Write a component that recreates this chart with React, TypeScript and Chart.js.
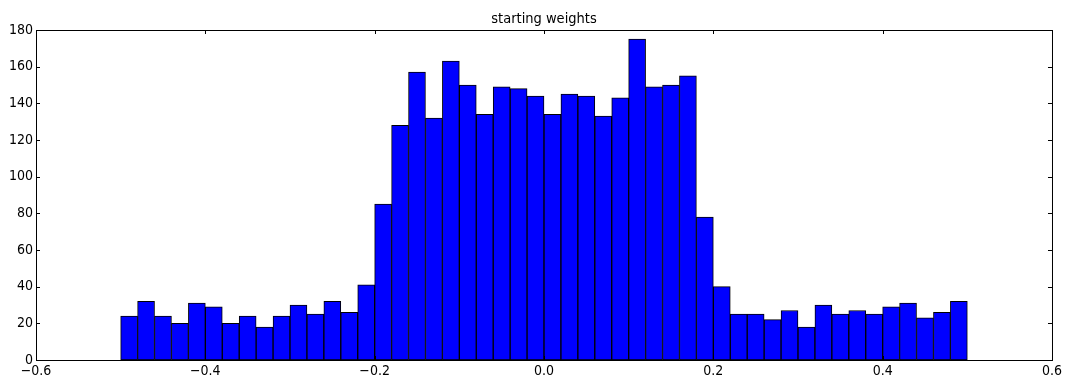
import React, { useEffect, useRef } from "react";
import { Chart, registerables } from "chart.js";

Chart.register(...registerables);

const TITLE = "starting weights";
const BIN_MIN = -0.5;
const BIN_MAX = 0.5;
const COUNTS = [
  24, 32, 24, 20, 31, 29, 20, 24, 18, 24,
  30, 25, 32, 26, 41, 85, 128, 157, 132, 163,
  150, 134, 149, 148, 144, 134, 145, 144, 133, 143,
  175, 149, 150, 155, 78, 40, 25, 25, 22, 27,
  18, 30, 25, 27, 25, 29, 31, 23, 26, 32,
];
const X_MIN = -0.6;
const X_MAX = 0.6;
const X_STEP = 0.2;
const Y_MIN = 0;
const Y_MAX = 180;
const Y_STEP = 20;

const TITLE_FONT = "'DejaVu Sans Condensed', 'DejaVu Sans', sans-serif";
const TICK_FONT = "'Liberation Sans Narrow', 'DejaVu Sans Condensed', sans-serif";

const framePlugin = {
  id: "mplFrame",
  afterDatasetsDraw(chart: any) {
    const { ctx, chartArea } = chart;
    const { left, right, top, bottom } = chartArea;
    const xs = chart.scales.x;
    const ys = chart.scales.y;
    const tl = 4;
    ctx.save();
    ctx.strokeStyle = "#000";
    ctx.lineWidth = 1;
    ctx.beginPath();
    xs.ticks.forEach((t: any) => {
      const px = Math.round(xs.getPixelForValue(t.value)) + 0.5;
      ctx.moveTo(px, top);
      ctx.lineTo(px, top + tl);
      ctx.moveTo(px, bottom);
      ctx.lineTo(px, bottom - tl);
    });
    ys.ticks.forEach((t: any) => {
      const py = Math.round(ys.getPixelForValue(t.value)) + 0.5;
      ctx.moveTo(left, py);
      ctx.lineTo(left + tl, py);
      ctx.moveTo(right, py);
      ctx.lineTo(right - tl, py);
    });
    ctx.stroke();
    ctx.strokeRect(left + 0.5, top + 0.5, right - left, bottom - top);
    ctx.fillStyle = "#000";
    ctx.font = `14.5px ${TITLE_FONT}`;
    ctx.textAlign = "center";
    ctx.textBaseline = "alphabetic";
    ctx.fillText(TITLE, (left + right) / 2, top - 7);
    ctx.restore();
  },
};

export default function App() {
  const ref = useRef<HTMLCanvasElement>(null);
  useEffect(() => {
    document.body.style.margin = "0";
    const binWidth = (BIN_MAX - BIN_MIN) / COUNTS.length;
    const data = COUNTS.map((c, i) => ({ x: BIN_MIN + binWidth * (i + 0.5), y: c }));
    const chart = new Chart(ref.current as HTMLCanvasElement, {
      type: "bar",
      data: {
        datasets: [
          {
            data: data as any,
            backgroundColor: "#0000ff",
            borderColor: "#000000",
            borderWidth: 1,
            borderSkipped: false,
            barPercentage: 1,
            categoryPercentage: 1,
          },
        ],
      },
      options: {
        animation: false,
        responsive: false,
        devicePixelRatio: 1,
        layout: { padding: { left: 0, right: 12, top: 30, bottom: 0 } },
        plugins: {
          legend: { display: false },
          tooltip: { enabled: false },
          title: { display: false },
        },
        scales: {
          x: {
            type: "linear",
            min: X_MIN,
            max: X_MAX,
            offset: false,
            grid: { display: false, drawTicks: false },
            border: { display: false },
            ticks: {
              stepSize: X_STEP,
              padding: 3,
              color: "#000",
              font: { family: TICK_FONT, size: 14 },
              maxRotation: 0,
              autoSkip: false,
              callback: (v: any) => Number(v).toFixed(1).replace("-", "\u2212"),
            },
            afterFit: (s: any) => {
              s.height = 24;
            },
          },
          y: {
            min: Y_MIN,
            max: Y_MAX,
            grid: { display: false, drawTicks: false },
            border: { display: false },
            ticks: {
              stepSize: Y_STEP,
              padding: 3,
              color: "#000",
              font: { family: TICK_FONT, size: 14 },
            },
            afterFit: (s: any) => {
              s.width = 36;
            },
          },
        },
      },
      plugins: [framePlugin],
    });
    return () => chart.destroy();
  }, []);
  return <canvas ref={ref} width={1065} height={384} style={{ display: "block" }} />;
}
